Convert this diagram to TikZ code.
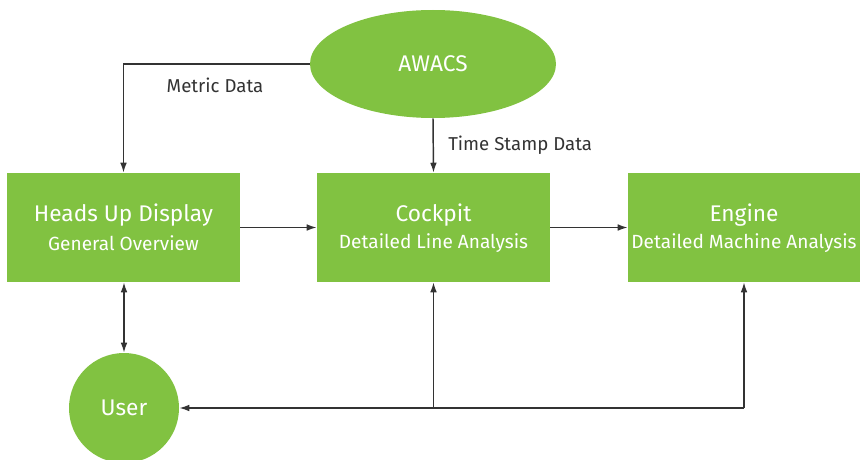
\documentclass[tikz,border=0pt]{standalone}
\usepackage{fontspec}
\setmainfont{Fira Sans}
\usetikzlibrary{arrows.meta,shapes.geometric,calc}
\definecolor{boxgreen}{RGB}{129,194,65}
\definecolor{linegray}{RGB}{51,51,51}
\begin{document}
\begin{tikzpicture}[x=0.75pt,y=-0.75pt,
  gbox/.style={rectangle,fill=boxgreen,text=white,inner sep=0pt,minimum height=81.75pt,align=center},
  gell/.style={ellipse,fill=boxgreen,text=white,inner sep=0pt},
  arr/.style={draw=linegray,line width=1.1pt,-{Latex[length=7.5pt,width=5pt]}},
  lbl/.style={text=linegray,font=\fontsize{14pt}{16pt}\selectfont,inner sep=0pt},
  ttl/.style={font=\fontsize{17pt}{20pt}\selectfont},
  sub/.style={font=\fontsize{14.3pt}{16pt}\selectfont}]
\useasboundingbox (0,0) rectangle (868,460);
\node[gell,minimum width=184.5pt,minimum height=81pt] (awacs) at (433,64) {\fontsize{17pt}{20pt}\selectfont AWACS};
\node[gbox,minimum width=174.75pt] (hud) at (123.5,227.5) {};
\node[gbox,minimum width=174.75pt] (cockpit) at (433.5,227.5) {};
\node[gbox,minimum width=174pt] (engine) at (744,227.5) {};
\node[text=white,ttl,inner sep=0pt] (hudt) at (123.5,215) {Heads Up Display};
\node[text=white,sub,inner sep=0pt] (huds) at (123.5,243) {General Overview};
\node[text=white,ttl,inner sep=0pt] (cockt) at (433.5,215) {Cockpit};
\node[text=white,sub,inner sep=0pt] (cocks) at (433.5,243) {Detailed Line Analysis};
\node[text=white,ttl,inner sep=0pt] (engt) at (744,215) {Engine};
\node[text=white,sub,inner sep=0pt] (engs) at (744,243) {Detailed Machine Analysis};
\node[gell,minimum width=82.5pt,minimum height=82.5pt] (user) at (124,408) {\fontsize{17pt}{20pt}\selectfont User};
\node[lbl] (metric) at (215,85) {Metric Data};
\node[lbl,anchor=west] (tsd) at (448,145) {Time Stamp Data};
\draw[arr] (awacs.west) -| (hud.north);
\draw[arr] (awacs.south) -- (cockpit.north);
\draw[arr] (hud.east) -- (cockpit.west);
\draw[arr] (cockpit.east) -- (engine.west);
\draw[arr,{Latex[length=7.5pt,width=5pt]}-{Latex[length=7.5pt,width=5pt]}] (hud.south -| user.north) -- (user.north);
\coordinate (jc) at (cockpit.south |- user.east);
\coordinate (je) at (engine.south |- user.east);
\draw[arr] (jc) -- (cockpit.south);
\draw[arr] (je) -- (engine.south);
\draw[arr] (je) -- (user.east);
\end{tikzpicture}
\end{document}
